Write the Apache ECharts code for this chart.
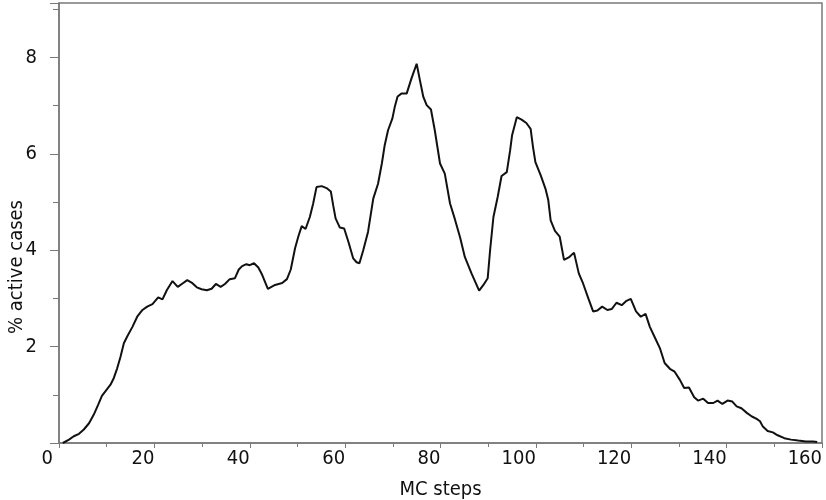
<!DOCTYPE html>
<html>
<head>
<meta charset="utf-8">
<script src="https://cdn.jsdelivr.net/npm/echarts@6/dist/echarts.min.js"></script>
<style>html,body{margin:0;padding:0;background:#fff;}#c{width:826px;height:500px;}</style>
</head>
<body>
<div id="c"></div>
<script>
// MC step (x) and % active cases (y)
var steps = [0.8,2.1,3.1,4.2,5.2,6.3,7.3,8.2,9.0,9.8,10.8,11.5,12.2,12.9,13.6,14.3,15.4,16.4,17.5,18.5,19.6,
  20.8,21.7,22.6,23.8,24.9,25.9,26.9,27.8,28.9,29.9,31.0,32.0,32.9,33.9,34.8,35.8,36.9,37.7,38.4,39.3,40.0,40.9,41.8,42.6,43.8,45.3,46.8,47.8,48.6,
  49.5,50.2,50.9,51.7,52.6,53.3,54.0,55.1,56.1,57.0,57.5,58.0,58.9,59.8,60.7,61.7,62.4,63.0,63.8,64.8,65.9,66.9,67.7,68.3,69.0,69.9,
  70.4,71.0,71.8,72.9,73.9,75.0,75.7,76.4,77.1,78.0,78.8,79.9,80.9,82.0,83.0,84.1,85.1,86.5,88.1,89.0,89.9,90.4,91.1,92.0,92.8,93.9,
  94.6,95.0,96.0,97.0,98.0,98.9,99.4,99.9,101.0,102.0,102.6,103.1,104.0,105.0,105.9,106.9,108.0,109.0,109.9,111.0,112.0,112.9,113.9,
  115.0,115.9,116.9,118.0,119.0,119.9,121.0,122.0,123.0,123.9,124.9,126.0,127.0,128.1,129.1,130.2,131.1,132.1,133.2,134.0,135.1,
  136.1,137.2,138.1,139.1,140.2,141.2,142.1,143.1,144.3,145.3,146.3,147.0,147.6,148.6,149.7,150.7,152.1,153.5,155.0,156.6,158.1,159.0];
var activePct = [0,0.07,0.14,0.19,0.28,0.41,0.59,0.79,0.98,1.08,1.21,1.35,1.55,1.79,2.07,2.21,2.41,2.62,2.76,2.83,2.88,
  3.02,2.98,3.17,3.36,3.24,3.31,3.38,3.33,3.23,3.19,3.17,3.20,3.30,3.24,3.30,3.40,3.42,3.60,3.67,3.71,3.69,3.73,3.64,3.49,3.20,3.28,3.32,3.40,3.60,
  4.04,4.29,4.50,4.44,4.69,4.97,5.31,5.33,5.29,5.22,4.93,4.66,4.47,4.45,4.17,3.83,3.75,3.73,4.00,4.38,5.07,5.38,5.80,6.18,6.49,6.73,
  6.97,7.19,7.25,7.25,7.56,7.87,7.52,7.18,7.01,6.92,6.49,5.80,5.59,4.97,4.65,4.27,3.86,3.52,3.16,3.28,3.42,4.00,4.69,5.11,5.54,5.62,
  6.07,6.38,6.76,6.71,6.64,6.52,6.14,5.83,5.56,5.28,5.04,4.62,4.40,4.28,3.80,3.85,3.95,3.52,3.31,3.00,2.73,2.75,2.83,
  2.76,2.78,2.91,2.86,2.95,2.99,2.73,2.62,2.68,2.41,2.20,1.97,1.66,1.54,1.48,1.31,1.14,1.15,0.95,0.88,0.92,
  0.83,0.83,0.88,0.81,0.88,0.86,0.76,0.72,0.62,0.55,0.50,0.45,0.34,0.25,0.22,0.16,0.10,0.07,0.05,0.03,0.03,0.02];
var xTicks = [0,20,40,60,80,100,120,140,160];
var yTicks = [2,4,6,8];

var FONT = "'DejaVu Sans Condensed','Liberation Sans',sans-serif";
var AX = '#7a7a7a';
var data = steps.map(function(s, i){ return [s, activePct[i]]; });

var chart = echarts.init(document.getElementById('c'), null, {renderer:'canvas'});
chart.setOption({
  animation: false,
  backgroundColor: '#fff',
  grid: {left: 59, right: 4, top: 3, bottom: 57, containLabel: false, outerBoundsMode: 'none',
         show: true, borderColor: AX, borderWidth: 1.5, backgroundColor: 'transparent'},
  xAxis: {
    type: 'value', min: 0, max: 160, interval: 20,
    name: 'MC steps', nameLocation: 'middle', nameGap: 37, nameMoveOverlap: false,
    nameTextStyle: {fontFamily: FONT, fontSize: 20, color: '#111'},
    axisLine: {show: true, onZero: false, lineStyle: {color: AX, width: 1.5}},
    axisTick: {show: true, inside: false, length: 5, lineStyle: {color: AX, width: 1}},
    minorTick: {show: true, splitNumber: 2, length: 4, lineStyle: {color: AX, width: 1}},
    splitLine: {show: false},
    axisLabel: {
      margin: 6, fontFamily: FONT, fontSize: 20, color: '#111', align: 'right',
      formatter: function(v){ if (xTicks.indexOf(v) < 0) return ''; return v === 0 ? '{z|0}' : String(v); },
      rich: {z: {fontFamily: FONT, fontSize: 20, color: '#111', padding: [0, 6, 0, 0]}}
    }
  },
  yAxis: {
    type: 'value', min: 0, max: 9.13, interval: 2,
    name: '% active cases', nameLocation: 'middle', nameGap: 32, nameMoveOverlap: false,
    nameTextStyle: {fontFamily: FONT, fontSize: 20, color: '#111', padding: [0, 88, 0, 0]},
    axisLine: {show: true, onZero: false, lineStyle: {color: AX, width: 1.5}},
    axisTick: {show: true, inside: false, length: 9, lineStyle: {color: AX, width: 1}},
    minorTick: {show: true, splitNumber: 2, length: 6, lineStyle: {color: AX, width: 1}},
    splitLine: {show: false},
    axisLabel: {
      margin: 22, fontFamily: FONT, fontSize: 20, color: '#111',
      formatter: function(v){ return yTicks.indexOf(v) >= 0 ? String(v) : ''; }
    }
  },
  series: [{
    type: 'line', data: data, showSymbol: false, symbol: 'none', smooth: false,
    lineStyle: {color: '#111', width: 2}
  }]
});
</script>
</body>
</html>
